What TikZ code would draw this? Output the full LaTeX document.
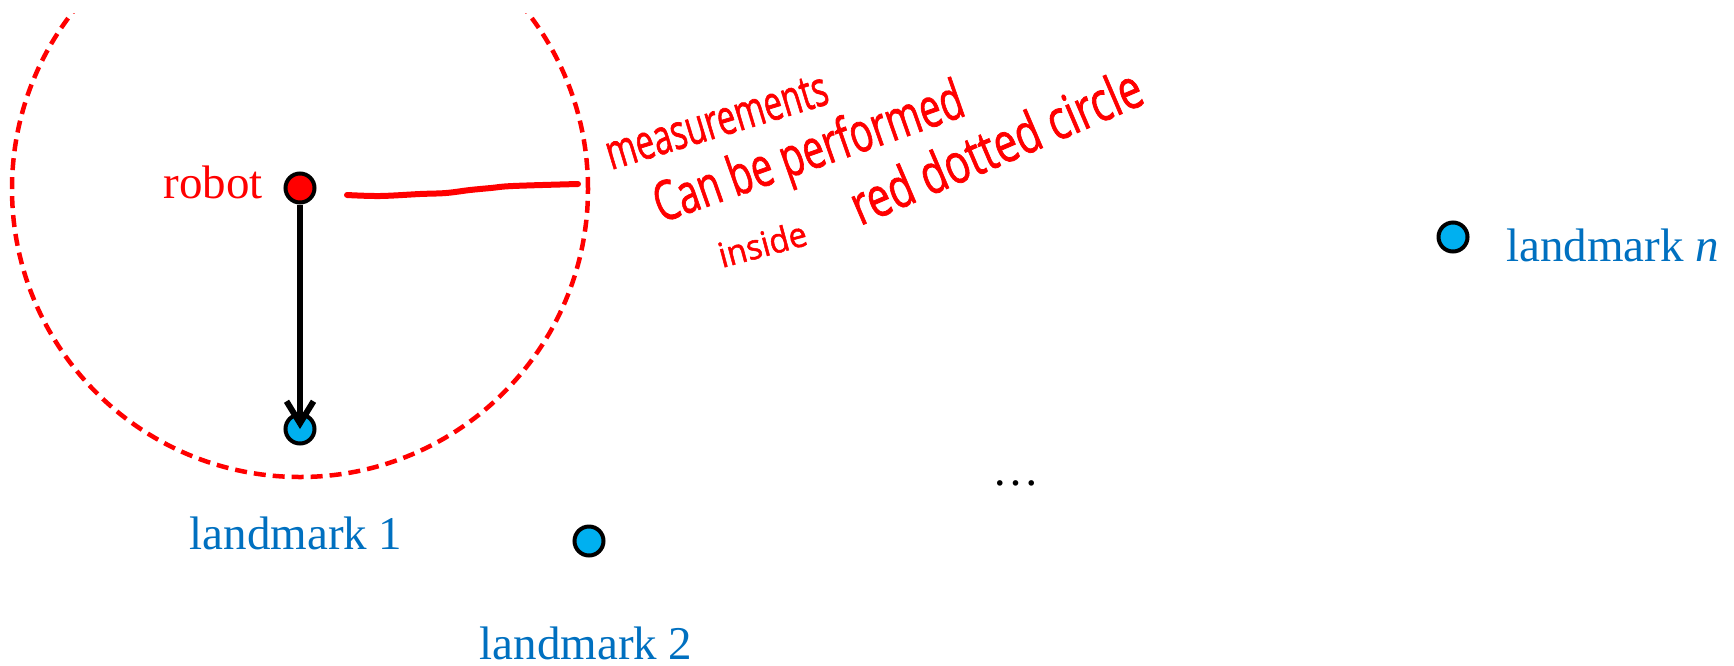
\documentclass[tikz,border=0pt]{standalone}
\usepackage{graphicx}
\usepackage{fontspec}
\setmainfont{Liberation Serif}
\newfontfamily\handfont[FakeBold=1.5]{Open Sans}
\usetikzlibrary{arrows.meta}
\definecolor{lmblue}{HTML}{0070C0}
\definecolor{dotblue}{HTML}{00B0F0}
\definecolor{pred}{HTML}{FF0000}
\begin{document}
\begin{tikzpicture}[x=1pt,y=-1pt,
  dot/.style={circle,draw=black,line width=4pt,minimum size=29pt,inner sep=0pt},
  lbl/.style={font=\fontsize{47}{56}\selectfont,inner sep=0pt},
  hand/.style={text=pred,inner sep=0pt,anchor=base west,font=\handfont\fontsize{30}{36}\selectfont}
]
\useasboundingbox (0,0) rectangle (1734,665);
\begin{scope}
\clip (0,13) rectangle (1734,665);
\draw[pred,line width=4.5pt,dash pattern=on 12pt off 7pt] (300,189) circle[radius=288pt];
\end{scope}

\node[dot,fill=pred] (robot) at (300,188) {};
\node[dot,fill=dotblue] (l1) at (300,429) {};
\node[dot,fill=dotblue] (l2) at (589,541) {};
\node[dot,fill=dotblue] (ln) at (1453,237) {};

\node[lbl,text=pred,anchor=base east] (robotlbl) at (263,198) {robot};
\node[lbl,text=lmblue,anchor=base] (l1lbl) at (296,549) {landmark 1};
\node[lbl,text=lmblue,anchor=base] (l2lbl) at (586,659) {landmark 2};
\node[lbl,text=lmblue,anchor=base west] (lnlbl) at (1506,261) {landmark \textit{n}};
\node[lbl,anchor=base] (dots) at (1016,485) {…};

\draw[line width=6pt,-{Straight Barb[length=22pt,width=27pt]}] (robot) -- (l1.center);

\coordinate (rs) at (347,195);
\coordinate (re) at (578,184);
\draw[pred,line width=6pt,line cap=round] plot[smooth,tension=0.6] coordinates {(rs) (380,196) (420,194) (446,193) (470,190) (491,188) (513,186) (re)};

\node[hand,rotate=16.9] (h1) at (611,170) {\resizebox{230pt}{32pt}{measurements}};
\node[hand,rotate=19.4] (h2) at (661,223) {\resizebox{325pt}{42pt}{Can be performed}};
\node[hand,rotate=15] (h3) at (722,268) {\resizebox{90pt}{26pt}{inside}};
\node[hand,rotate=23.2] (h4) at (860,226) {\resizebox{312pt}{42pt}{red dotted circle}};
\end{tikzpicture}
\end{document}
